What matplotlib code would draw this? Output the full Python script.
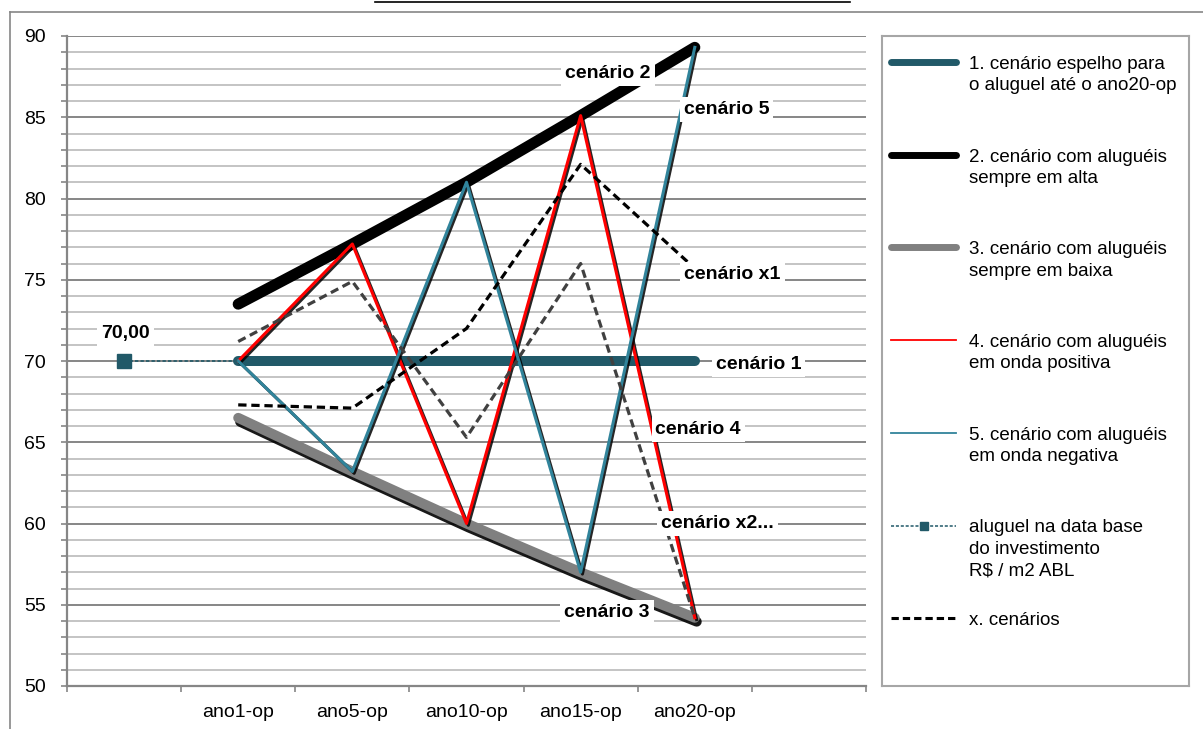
import matplotlib
matplotlib.use('Agg')
import matplotlib.pyplot as plt
import matplotlib.patheffects as pe
from matplotlib.lines import Line2D
import numpy as np

plt.rcParams['font.family'] = ['Liberation Sans', 'DejaVu Sans']

# --- DADOS ---
categorias = ['', 'ano1-op', 'ano5-op', 'ano10-op', 'ano15-op', 'ano20-op', '']
anos = ['ano1-op', 'ano5-op', 'ano10-op', 'ano15-op', 'ano20-op']

cenario_1 = [70.0, 70.0, 70.0, 70.0, 70.0]      # espelho
cenario_2 = [73.5, 77.2, 81.0, 85.1, 89.3]      # sempre em alta
cenario_3 = [66.5, 63.2, 60.0, 57.0, 54.2]      # sempre em baixa
cenario_4 = [70.0, 77.2, 60.0, 85.1, 54.2]      # onda positiva
cenario_5 = [70.0, 63.2, 81.0, 57.0, 89.3]      # onda negativa
cenario_x1 = [67.3, 67.1, 72.0, 82.1, 75.7]
cenario_x2 = [71.2, 74.9, 65.3, 76.0, 54.2]
aluguel_base = [70.0, 70.0]                     # data base -> ano1-op

TEAL = '#215968'
AQUA = '#31849B'
CINZA = '#808080'
FONTE = 14

W, H = 1203, 729
fig = plt.figure(figsize=(W / 100, H / 100), dpi=100)
fig.patch.set_facecolor('white')

# área do gráfico em pixels
x0, x1, y0, y1 = 67, 866, 36, 686
ax = fig.add_axes([x0 / W, (H - y1) / H, (x1 - x0) / W, (y1 - y0) / H])

pos = {c: i for i, c in enumerate(categorias) if c}
xs = [pos[a] for a in anos]

sombra_fina = [pe.SimpleLineShadow(offset=(1.3, -1.3), shadow_color='black', alpha=0.85),
               pe.Normal()]
sombra_grossa = [pe.SimpleLineShadow(offset=(1.4, -2.8), shadow_color='black', alpha=0.9),
                 pe.Normal()]

ax.plot(xs, cenario_1, color=TEAL, lw=7.2, solid_capstyle='round', zorder=3)
ax.plot(xs, cenario_2, color='black', lw=8, solid_capstyle='round', zorder=3)
ax.plot(xs, cenario_3, color=CINZA, lw=7.2, solid_capstyle='round', zorder=3,
        path_effects=sombra_grossa)
ax.plot(xs, cenario_4, color='#FF0000', lw=2.2, zorder=4, path_effects=sombra_fina)
ax.plot(xs, cenario_5, color=AQUA, lw=2.2, zorder=4, path_effects=sombra_fina)
ax.plot([0, xs[0]], aluguel_base, color=TEAL, lw=1.2, dashes=(2, 1.3), zorder=4)
ax.plot([0], aluguel_base[:1], 's', color=TEAL, ms=10.5, zorder=5)
ax.plot(xs, cenario_x1, color='black', lw=2.3, dashes=(2.6, 1.5), zorder=5)
ax.plot(xs, cenario_x2, color='#404040', lw=2.3, dashes=(2.6, 1.5), zorder=5)

# rótulos dos cenários
caixa = dict(boxstyle='square,pad=0.2', fc='white', ec='none')
rotulos = [
    ('cenário 2', 4.24, 87.7),
    ('cenário 5', 5.28, 85.5),
    ('cenário x1', 5.33, 75.35),
    ('cenário 1', 5.56, 69.8),
    ('cenário 4', 5.03, 65.8),
    ('cenário x2...', 5.20, 60.0),
    ('cenário 3', 4.23, 54.55),
]
for txt, tx, ty in rotulos:
    ax.text(tx, ty, txt, fontsize=FONTE, fontweight='bold', ha='center',
            va='center', bbox=caixa, zorder=10)
ax.annotate('{:.2f}'.format(aluguel_base[0]).replace('.', ','), (0, aluguel_base[0]),
            xytext=(1, 20), textcoords='offset points', fontsize=FONTE,
            fontweight='bold', ha='center', va='center', bbox=caixa, zorder=10)

# eixos
ax.set_xlim(-0.5, len(categorias) - 0.5)
ax.set_ylim(50, 90)
ax.set_xticks(np.arange(-0.5, len(categorias)))
ax.set_xticklabels([])
ax.set_xticks(np.arange(len(categorias)), minor=True)
ax.set_xticklabels(categorias, minor=True)
ax.tick_params(axis='x', which='major', length=4, width=1.2, color='#868686')
ax.tick_params(axis='x', which='minor', length=0, pad=13, labelsize=FONTE)

ax.set_yticks(np.arange(50, 91, 5))
ax.set_yticks(np.arange(50, 91, 1), minor=True)
ax.tick_params(axis='y', which='both', length=4, width=1.2, color='#868686')
ax.tick_params(axis='y', which='major', pad=11, labelsize=FONTE)

ax.grid(axis='y', which='major', color='#868686', lw=1.4, zorder=0)
ax.grid(axis='y', which='minor', color='#c4c4c4', lw=1.4, zorder=0)
ax.set_axisbelow(True)
for lado in ['top', 'right']:
    ax.spines[lado].set_visible(False)
for lado in ['left', 'bottom']:
    ax.spines[lado].set_color('#868686')
    ax.spines[lado].set_linewidth(1.6)

# legenda desenhada à parte
lx0, lx1 = 882, 1189
lax = fig.add_axes([lx0 / W, (H - y1) / H, (lx1 - lx0) / W, (y1 - y0) / H])
lax.set_xlim(lx0, lx1)
lax.set_ylim(y1, y0)
lax.set_xticks([])
lax.set_yticks([])
for s in lax.spines.values():
    s.set_color('#a6a6a6')
    s.set_linewidth(1.5)

legenda = [
    ('1. cenário espelho para\no aluguel até o ano20-op',
     dict(color=TEAL, lw=5, solid_capstyle='round')),
    ('2. cenário com aluguéis\nsempre em alta',
     dict(color='black', lw=5, solid_capstyle='round')),
    ('3. cenário com aluguéis\nsempre em baixa',
     dict(color=CINZA, lw=5, solid_capstyle='round')),
    ('4. cenário com aluguéis\nem onda positiva',
     dict(color='#FF0000', lw=1.3)),
    ('5. cenário com aluguéis\nem onda negativa',
     dict(color=AQUA, lw=1.3)),
    ('aluguel na data base\ndo investimento\nR$ / m2 ABL',
     dict(color=TEAL, lw=1.1, dashes=(2, 1.2))),
    ('x. cenários',
     dict(color='black', lw=2.2, dashes=(2.4, 1.3))),
]
for i, (txt, estilo) in enumerate(legenda):
    yy = 62 + 92.7 * i
    lax.plot([891, 956], [yy, yy], **estilo)
    if i == 5:
        lax.plot([923.5], [yy], 's', color=TEAL, ms=5.5)
    lax.text(969, yy - 6, txt, fontsize=13.5, ha='left', va='top',
             linespacing=1.33)

# moldura externa e linha superior
fig.add_artist(Line2D([10 / W, 10 / W], [0, (H - 12) / H], color='#868686', lw=1.2))
fig.add_artist(Line2D([10 / W, 1], [(H - 12) / H, (H - 12) / H], color='#868686', lw=1.2))
fig.add_artist(Line2D([375 / W, 850 / W], [(H - 2) / H, (H - 2) / H], color='black', lw=1.2))

fig.savefig('out.png', dpi=100)
